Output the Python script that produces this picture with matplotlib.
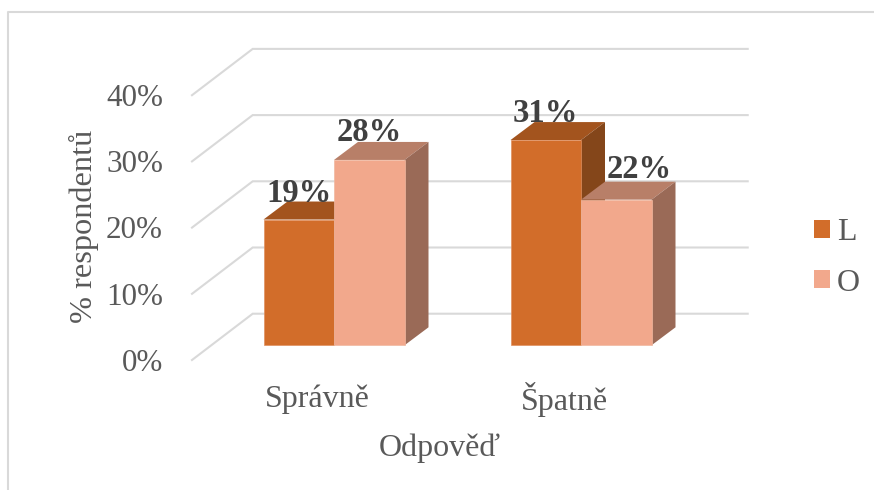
import matplotlib
matplotlib.use('Agg')
import matplotlib.pyplot as plt
from matplotlib.patches import Patch

plt.rcParams['font.family'] = ['Liberation Serif', 'DejaVu Serif']

categories = ['Správně', 'Špatně']
values_L = [19, 31]
values_O = [28, 22]
series_names = ['L', 'O']
y_ticks = [0, 10, 20, 30, 40]
y_ticklabels = ['0%', '10%', '20%', '30%', '40%']

W, H = 874, 490
# pixel placement of the bar front plane
PX_X0, PX_DX = 334.0, 247.0   # first group centre, group spacing
PX_Y0, PX_DY = 345.3, 6.62    # 0 % line, pixels per percent
AX_L, AX_R = 190.0, 750.0

BAR_W = 70.5 / PX_DX
# depth of a bar, and where back wall / front edge of the floor sit
DEPTH_X, DEPTH_Y = 24.0 / PX_DX, 18.0 / PX_DY
BACK_Y = 31.6 / PX_DY
FRONT_Y = -14.7 / PX_DY

COL_L = ('#D26D2A', '#A3541E', '#84461A', '#E09060')  # front, top, side, edge
COL_O = ('#F2A88C', '#B87F68', '#9A6A57', '#F0B8A0')
GRID = '#D9D9D9'
TXT = '#595959'

fig = plt.figure(figsize=(W / 100, H / 100), dpi=100)
ax = fig.add_axes([AX_L / W, 1 - PX_Y0 / H, (AX_R - AX_L) / W, 40 * PX_DY / H])
ax.set_xlim((AX_L - PX_X0) / PX_DX, (AX_R - PX_X0) / PX_DX)
ax.set_ylim(0, 40)
ax.axis('off')

# outer chart frame
fig.add_artist(plt.Line2D([7.5 / W, 7.5 / W, 1], [0, 1 - 12 / H, 1 - 12 / H], color=GRID, lw=1.5))

# gridlines: diagonal along the side wall, then the line along the back wall
x_front = (192.0 - PX_X0) / PX_DX
x_back = (252.7 - PX_X0) / PX_DX
x_end = (747.7 - PX_X0) / PX_DX
for t in y_ticks:
    ax.plot([x_front, x_back, x_end], [t + FRONT_Y, t + BACK_Y, t + BACK_Y],
            color=GRID, lw=1.5, clip_on=False, zorder=1, solid_joinstyle='miter')


def draw_bars(xs, vals, cols, z):
    bars = ax.bar(xs, vals, width=BAR_W, color=cols[0], edgecolor=cols[3], linewidth=0.5,
                  clip_on=False, zorder=z + 0.2)
    for rect, v in zip(bars, vals):
        x0, x1 = rect.get_x(), rect.get_x() + rect.get_width()
        ax.fill([x0, x1, x1 + DEPTH_X, x0 + DEPTH_X], [v, v, v + DEPTH_Y, v + DEPTH_Y],
                color=cols[1], lw=0, clip_on=False, zorder=z)
        ax.fill([x1, x1 + DEPTH_X, x1 + DEPTH_X, x1], [0, DEPTH_Y, v + DEPTH_Y, v],
                color=cols[2], lw=0, clip_on=False, zorder=z)


x_L = [i - BAR_W / 2 for i in range(len(categories))]
x_O = [i + BAR_W / 2 for i in range(len(categories))]
draw_bars(x_L, values_L, COL_L, 2)
draw_bars(x_O, values_O, COL_O, 3)

# value labels, the last one is nudged right so it clears the taller bar
points = list(zip(x_L, values_L)) + list(zip(x_O, values_O))
label_shift = [(0, 26), (0, 27), (0, 27), (23, 30)]
for (x, v), shift in zip(points, label_shift):
    ax.annotate(f'{v}%', (x, v), xytext=shift, textcoords='offset pixels',
                ha='center', va='center', fontsize=23.5, fontweight='bold',
                color='#404040', zorder=6, annotation_clip=False)

# y tick labels follow the front edge of the walls
for t, lab in zip(y_ticks, y_ticklabels):
    ax.annotate(lab, (ax.get_xlim()[0], t), xytext=(163 - AX_L, -18), textcoords='offset pixels',
                ha='right', va='center', fontsize=22.4, color=TXT, annotation_clip=False)

for i, c in enumerate(categories):
    ax.annotate(c, (i, 0), xytext=(-16.5, -54), textcoords='offset pixels',
                ha='center', va='center', fontsize=23, color=TXT, annotation_clip=False)

fig.text(440 / W, 1 - 448 / H, 'Odpověď', ha='center', va='center', fontsize=23, color=TXT)
fig.text(84 / W, 1 - 226 / H, '% respondentů', ha='center', va='center', rotation=90,
         fontsize=23.3, color=TXT)

handles = [Patch(facecolor=COL_L[0], lw=0, label=series_names[0]),
           Patch(facecolor=COL_O[0], lw=0, label=series_names[1])]
fig.legend(handles=handles, loc='center left', bbox_to_anchor=(808 / W, 1 - 258 / H), frameon=False,
           fontsize=23, labelcolor=TXT, handlelength=0.5, handleheight=0.5, handletextpad=0.2,
           labelspacing=0.67, borderpad=0.2, borderaxespad=0)

fig.savefig('out.png', dpi=100)
